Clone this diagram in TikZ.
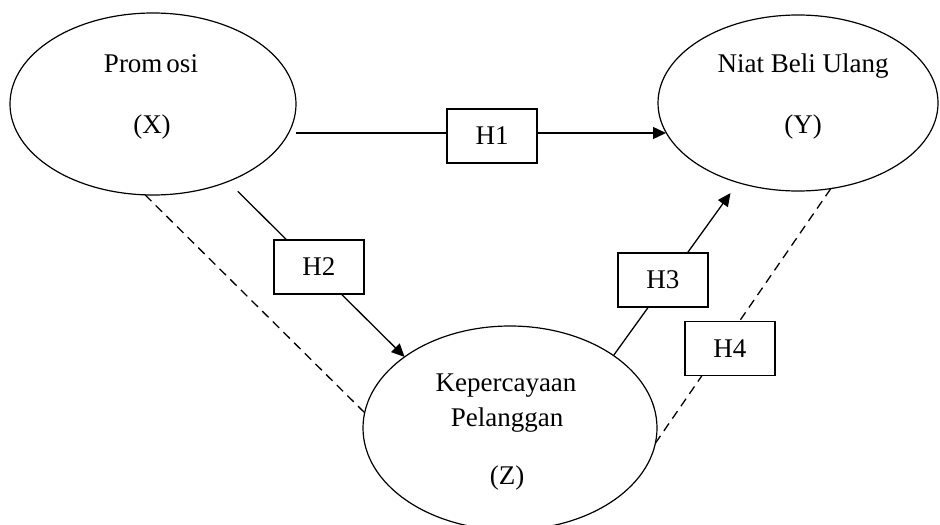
\documentclass[tikz,border=0pt]{standalone}
\usepackage{fontspec}
\setmainfont{Liberation Serif}
\usetikzlibrary{shapes.geometric,arrows.meta}

\begin{document}
\begin{tikzpicture}[
    x=0.5pt, y=-0.5pt,
    font=\fontsize{13.5}{16}\selectfont,
    latent/.style={ellipse, draw=black, line width=0.6pt, inner sep=0pt, outer sep=0pt},
    hyp/.style={rectangle, draw=black, solid, line width=0.8pt, fill=white, minimum width=45pt, minimum height=27pt, inner sep=0pt},
    vartext/.style={anchor=base, inner sep=0pt},
    arrow/.style={-{Triangle[length=6.5pt, width=6pt]}, line width=0.65pt, draw=black},
    link/.style={dash pattern=on 4.5pt off 3pt, line width=0.65pt, draw=black}
  ]
    \useasboundingbox (0,0) rectangle (940,524);

    \node[latent, minimum width=143pt, minimum height=91pt] (X) at (153,104) {};
    \node[latent, minimum width=140pt, minimum height=88pt] (Y) at (798,103) {};
    \node[latent, minimum width=147pt, minimum height=102pt] (Z) at (510,428) {};

    \node[vartext] (xname) at (151,73) {Prom\kern2pt osi};
    \node[vartext] (xsym) at (152,133) {(X)};
    \node[vartext] (yname) at (803,73) {Niat Beli Ulang};
    \node[vartext] (ysym) at (803,133) {(Y)};
    \node[vartext] (zname) at (506,391) {Kepercayaan};
    \node[vartext] (zname2) at (507,426) {Pelanggan};
    \node[vartext] (zsym) at (507,484) {(Z)};

    \draw[arrow] ([yshift=-14.5pt]X.east) -- node[hyp, pos=0.53, yshift=-1.5pt] (h1) {H1} ([shift={(8,30)}]Y.west);
    \draw[arrow, shorten <=7pt] (X.-46) -- node[hyp, pos=0.486, xshift=2.5pt] (h2) {H2} (Z.146);
    \draw[arrow, shorten >=6.5pt] (Z.35) -- node[hyp, pos=0.437, xshift=-2.5pt] (h3) {H3} (Y.233);
    \draw[link] (Z.-6) -- node[hyp, pos=0.3715, xshift=4.7pt] (h4) {H4} (Y.-69);
    \draw[link] (X.265) -- (Z.174);
  \end{tikzpicture}
\end{document}
